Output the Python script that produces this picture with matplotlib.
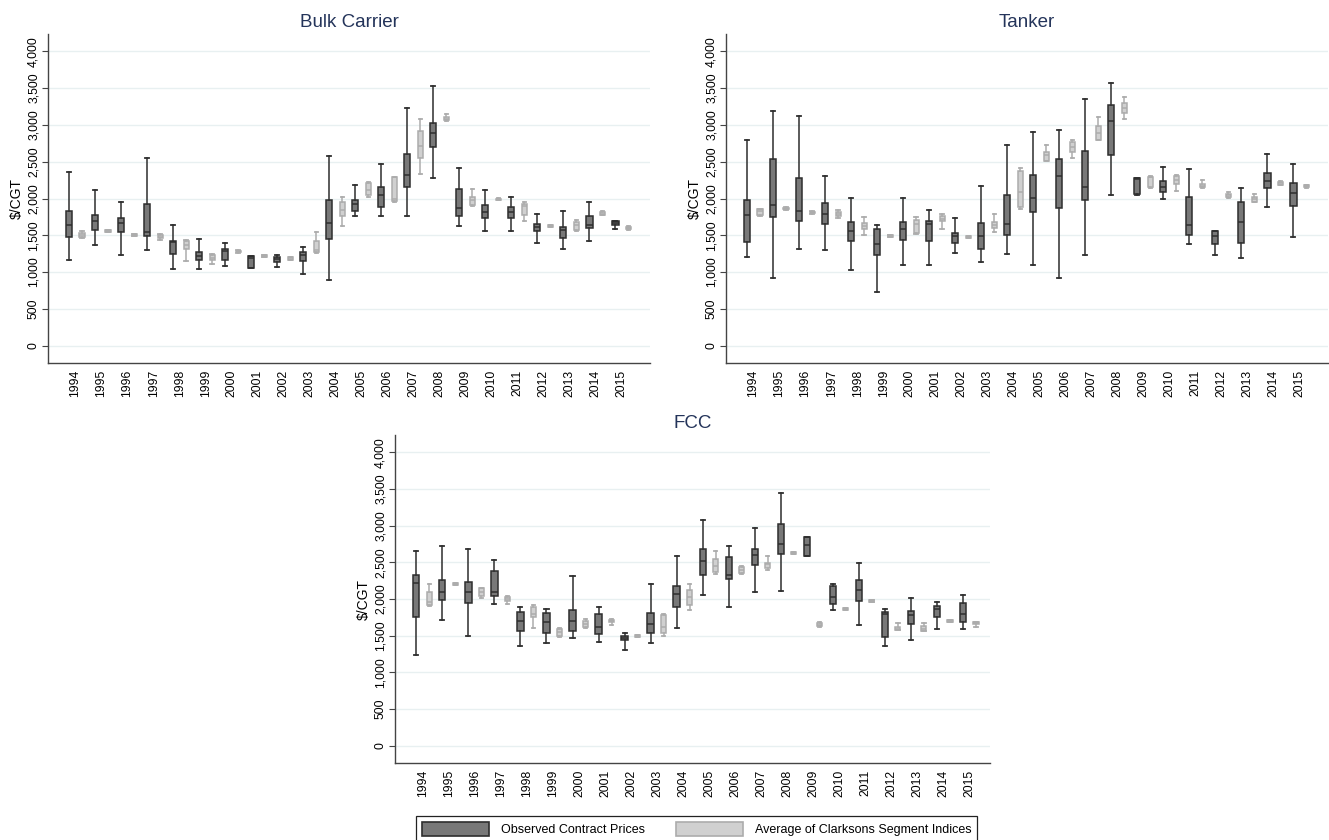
import matplotlib
matplotlib.use("Agg")
import matplotlib.pyplot as plt
from matplotlib.patches import Patch

plt.rcParams['font.family'] = ['Liberation Sans', 'DejaVu Sans']

# dados: (whisker low, q1, median, q3, whisker high) por ano
years = list(range(1994, 2016))

bulk_obs = [
    (1167, 1471, 1638, 1824, 2362), (1367, 1566, 1688, 1778, 2109),
    (1226, 1539, 1661, 1733, 1955), (1303, 1484, 1539, 1923, 2557),
    (1041, 1244, 1407, 1425, 1634), (1041, 1167, 1222, 1272, 1453),
    (1077, 1158, 1285, 1317, 1389), (1055, 1060, 1190, 1215, 1220),
    (1072, 1136, 1172, 1199, 1235), (977, 1145, 1235, 1276, 1344),
    (896, 1443, 1665, 1982, 2579), (1756, 1833, 1928, 1973, 2177),
    (1756, 1891, 2050, 2158, 2475), (1756, 2154, 2326, 2602, 3235),
    (2272, 2706, 2887, 3032, 3525), (1629, 1765, 1873, 2131, 2412),
    (1557, 1729, 1819, 1910, 2109), (1557, 1733, 1810, 1878, 2023),
    (1394, 1561, 1606, 1652, 1787), (1312, 1462, 1575, 1611, 1824),
    (1425, 1597, 1643, 1756, 1955), (1585, 1640, 1665, 1695, 1700),
]
bulk_clark = [
    (1470, 1480, 1500, 1525, 1565), (1545, 1547, 1560, 1573, 1575),
    (1485, 1487, 1500, 1513, 1515), (1430, 1460, 1480, 1500, 1515),
    (1154, 1312, 1371, 1425, 1439), (1109, 1167, 1195, 1226, 1249),
    (1265, 1270, 1280, 1290, 1295), (1200, 1202, 1215, 1228, 1230),
    (1160, 1165, 1185, 1200, 1210), (1258, 1267, 1294, 1421, 1539),
    (1629, 1765, 1837, 1950, 2018), (2018, 2041, 2113, 2204, 2222),
    (1955, 1968, 2000, 2286, 2290), (2335, 2548, 2710, 2923, 3077),
    (3050, 3060, 3085, 3110, 3150), (1896, 1905, 1982, 2027, 2127),
    (1975, 1980, 1990, 2000, 2010), (1688, 1778, 1900, 1928, 1946),
    (1610, 1612, 1624, 1636, 1638), (1561, 1575, 1638, 1674, 1710),
    (1770, 1780, 1795, 1810, 1825), (1570, 1580, 1600, 1615, 1625),
]

tanker_obs = [
    (1208, 1407, 1778, 1982, 2801), (919, 1742, 1905, 2543, 3195),
    (1312, 1697, 1828, 2281, 3122), (1303, 1652, 1783, 1937, 2312),
    (1023, 1421, 1557, 1679, 2009), (729, 1235, 1380, 1584, 1638),
    (1091, 1434, 1588, 1679, 2009), (1091, 1416, 1652, 1688, 1837),
    (1253, 1398, 1493, 1529, 1729), (1131, 1308, 1489, 1670, 2167),
    (1244, 1502, 1652, 2050, 2724), (1095, 1810, 2009, 2326, 2905),
    (923, 1873, 2308, 2543, 2932), (1235, 1977, 2158, 2647, 3358),
    (2045, 2588, 3050, 3267, 3566), (2054, 2060, 2268, 2272, 2276),
    (1987, 2082, 2163, 2244, 2425), (1385, 1502, 1634, 2018, 2407),
    (1226, 1380, 1493, 1561, 1561), (1190, 1394, 1679, 1950, 2140),
    (1878, 2136, 2231, 2349, 2606), (1475, 1896, 2068, 2204, 2471),
]
tanker_clark = [
    (1756, 1778, 1824, 1855, 1860), (1850, 1852, 1864, 1876, 1878),
    (1796, 1798, 1810, 1822, 1824), (1735, 1765, 1795, 1820, 1840),
    (1507, 1588, 1629, 1665, 1742), (1478, 1480, 1492, 1504, 1506),
    (1515, 1530, 1655, 1710, 1755), (1588, 1688, 1720, 1756, 1787),
    (1465, 1470, 1480, 1490, 1495), (1543, 1593, 1638, 1674, 1783),
    (1855, 1878, 2091, 2367, 2412), (2507, 2511, 2593, 2638, 2733),
    (2548, 2634, 2706, 2774, 2797), (2797, 2797, 2887, 2987, 3104),
    (3081, 3167, 3235, 3294, 3385), (2145, 2150, 2290, 2295, 2303),
    (2104, 2195, 2249, 2303, 2321), (2140, 2150, 2170, 2195, 2250),
    (2005, 2027, 2050, 2063, 2086), (1959, 1959, 1991, 2018, 2063),
    (2190, 2190, 2208, 2226, 2240), (2145, 2160, 2170, 2185, 2190),
]

fcc_obs = [
    (1243, 1755, 2218, 2331, 2653), (1710, 1982, 2095, 2263, 2717),
    (1497, 1946, 2095, 2231, 2676), (1932, 2041, 2095, 2376, 2531),
    (1361, 1560, 1701, 1828, 1896), (1401, 1537, 1687, 1805, 1864),
    (1474, 1565, 1701, 1846, 2308), (1415, 1528, 1619, 1791, 1891),
    (1302, 1438, 1469, 1501, 1542), (1401, 1537, 1664, 1810, 2204),
    (1610, 1891, 2073, 2177, 2585), (2054, 2322, 2517, 2685, 3079),
    (1891, 2268, 2322, 2571, 2726), (2100, 2458, 2603, 2685, 2961),
    (2104, 2617, 2753, 3016, 3447), (2590, 2590, 2730, 2839, 2839),
    (1846, 1927, 2027, 2177, 2209), (1646, 1973, 2118, 2263, 2494),
    (1365, 1483, 1791, 1823, 1859), (1438, 1655, 1782, 1832, 2014),
    (1587, 1755, 1868, 1900, 1959), (1587, 1687, 1791, 1950, 2050),
]
fcc_clark = [
    (1905, 1915, 1960, 2095, 2200), (2195, 2197, 2209, 2221, 2223),
    (2014, 2041, 2095, 2150, 2154), (1927, 1968, 1995, 2027, 2045),
    (1610, 1760, 1800, 1891, 1923), (1483, 1492, 1551, 1596, 1600),
    (1610, 1619, 1664, 1701, 1732), (1650, 1690, 1700, 1720, 1730),
    (1478, 1480, 1492, 1504, 1506), (1501, 1537, 1619, 1778, 1791),
    (1855, 1914, 2027, 2118, 2209), (2336, 2363, 2454, 2549, 2653),
    (2340, 2350, 2390, 2440, 2450), (2390, 2426, 2472, 2494, 2585),
    (2616, 2618, 2630, 2642, 2644), (1620, 1630, 1650, 1670, 1680),
    (1845, 1847, 1859, 1871, 1873), (1959, 1961, 1973, 1985, 1987),
    (1574, 1574, 1596, 1619, 1678), (1565, 1565, 1596, 1628, 1673),
    (1691, 1693, 1705, 1717, 1719), (1620, 1660, 1670, 1685, 1690),
]

labels = ['Observed Contract Prices', 'Average of Clarksons Segment Indices']

# estilos
dark_fill, dark_edge = '#787878', '#2e2e2e'
light_fill, light_edge = '#d0d0d0', '#acacac'
title_color = '#24345a'
grid_color = '#e8f0f1'


def to_stats(rows):
    return [dict(whislo=r[0], q1=r[1], med=r[2], q3=r[3], whishi=r[4]) for r in rows]


def draw_boxes(ax, rows, positions, width, fill, edge):
    ax.bxp(to_stats(rows), positions=positions, widths=width,
           patch_artist=True, showfliers=False, capwidths=width * 0.65,
           boxprops=dict(facecolor=fill, edgecolor=edge, linewidth=1.1),
           medianprops=dict(color=edge, linewidth=1.1),
           whiskerprops=dict(color=edge, linewidth=1.1),
           capprops=dict(color=edge, linewidth=1.3),
           manage_ticks=False)


def panel(rect, title, obs, clark, xlim):
    ax = fig.add_axes(rect)
    idx = list(range(len(years)))
    draw_boxes(ax, obs, [i - 0.25 for i in idx], 0.24, dark_fill, dark_edge)
    draw_boxes(ax, clark, [i + 0.25 for i in idx], 0.2, light_fill, light_edge)

    ax.set_xlim(*xlim)
    ax.set_ylim(-235, 4235)
    ax.set_xticks(idx)
    ax.set_xticklabels([str(y) for y in years], rotation=90, fontsize=8.7)
    ax.tick_params(axis='x', length=0, pad=5)
    ax.set_yticks(range(0, 4001, 500))
    ax.set_yticklabels([f'{v:,}' for v in range(0, 4001, 500)], fontsize=8.8)
    for lbl in ax.get_yticklabels():
        lbl.set_rotation(90)
        lbl.set_va('center')
        lbl.set_ha('right')
    ax.tick_params(axis='y', length=4, width=0.8, color='#444444', pad=2)
    ax.set_ylabel(r'\$/CGT', fontsize=10, labelpad=3)

    ax.grid(axis='y', color=grid_color, linewidth=1)
    ax.set_axisbelow(True)
    for s in ['top', 'right']:
        ax.spines[s].set_visible(False)
    for s in ['left', 'bottom']:
        ax.spines[s].set_color('#444444')
        ax.spines[s].set_linewidth(1)
    ax.set_title(title, fontsize=13.5, color=title_color, pad=5)
    return ax


fig = plt.figure(figsize=(13.29, 8.4), dpi=100)

W, H = 1329, 840
panel([48 / W, 1 - 363 / H, 602 / W, 329 / H], 'Bulk Carrier', bulk_obs, bulk_clark, (-1.06, 22.08))
panel([726 / W, 1 - 363 / H, 602 / W, 329 / H], 'Tanker', tanker_obs, tanker_clark, (-1.06, 22.08))
panel([395 / W, 1 - 763 / H, 595 / W, 328 / H], 'FCC', fcc_obs, fcc_clark, (-1.07, 21.79))

handles = [Patch(facecolor=dark_fill, edgecolor=dark_edge, linewidth=1.2),
           Patch(facecolor=light_fill, edgecolor=light_edge, linewidth=1.2)]
leg = fig.legend(handles, labels, loc='upper center', ncol=2,
                 bbox_to_anchor=(696.5 / W, 1 - 810 / H), fontsize=9,
                 handlelength=5.4, handleheight=1.4, handletextpad=0.9,
                 columnspacing=2.5, borderpad=0.45, fancybox=False,
                 edgecolor='#222222', framealpha=1)
leg.get_frame().set_linewidth(0.9)

plt.savefig('out.png', dpi=100)
